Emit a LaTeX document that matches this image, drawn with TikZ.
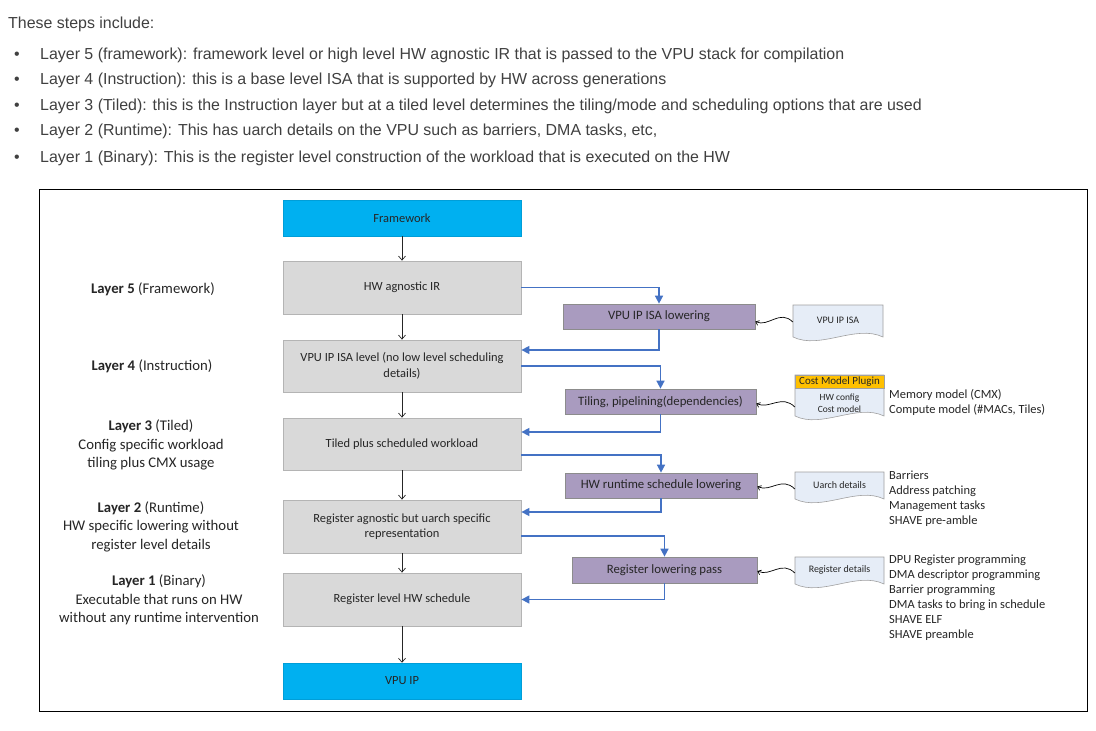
\documentclass[tikz,border=0pt]{standalone}
\usepackage{fontspec}
\setmainfont{Carlito}
\newfontfamily\webfont{Liberation Sans}
\usetikzlibrary{arrows.meta,calc}
\definecolor{cyanbox}{HTML}{00B0F0}
\definecolor{graybox}{HTML}{D9D9D9}
\definecolor{grayline}{HTML}{B4B4B4}
\definecolor{purplebox}{HTML}{A99BBF}
\definecolor{purpleline}{HTML}{8C8C8C}
\definecolor{docfill}{HTML}{E6EDF7}
\definecolor{docline}{HTML}{A0A0A0}
\definecolor{flowblue}{HTML}{4472C4}
\definecolor{plugin}{HTML}{FFC000}
\definecolor{webtext}{HTML}{404040}
\definecolor{diagtext}{HTML}{262626}
\newcommand\docshape[4]{%
  \filldraw[docsty] (#1,#2) -- (#3,#2) -- (#3,#4)
    .. controls ({#1+0.7*(#3-#1)},{#4-13}) and ({#1+0.3*(#3-#1)},{#4+13}) .. (#1,#4) -- cycle;}
\tikzset{
  docsty/.style={fill=docfill,draw=docline,line width=0.6bp},
  graystep/.style={fill=graybox,draw=grayline,line width=0.8bp,minimum width=238bp,
    text=diagtext,font=\fontsize{12.5}{15.5}\selectfont,align=center,inner sep=0pt},
  endbox/.style={fill=cyanbox,draw=cyanbox!90!black,line width=0.5bp,minimum width=238bp,
    minimum height=36bp,text=diagtext,font=\fontsize{12.5}{15}\selectfont,inner sep=0pt},
  passbox/.style={fill=purplebox,draw=purpleline,line width=0.7bp,minimum height=25bp,
    text=diagtext,font=\fontsize{12.8}{15}\selectfont,inner sep=0pt},
  docnode/.style={draw=none,minimum width=89bp,inner sep=0pt,text=diagtext,
    font=\fontsize{10}{12}\selectfont,align=center},
  flowarrow/.style={draw=flowblue,line width=1.5bp,-{Triangle[length=8bp,width=8bp]}},
  downarrow/.style={draw=black!85,line width=0.7bp,-{Straight Barb[length=4bp,width=7bp]}},
  squig/.style={draw=black,line width=0.7bp,-{Straight Barb[length=3bp,width=5bp]}},
  layerlabel/.style={text=diagtext,font=\fontsize{14.8}{18.5}\selectfont,align=center,inner sep=0pt},
  sidelist/.style={anchor=west,text=diagtext,font=\fontsize{12.5}{15}\selectfont,align=left,inner sep=0pt},
  webline/.style={anchor=west,text=webtext,font=\webfont\fontsize{16}{18}\selectfont,inner sep=0pt},
  bulletdot/.style={text=webtext,font=\webfont\fontsize{16}{18}\selectfont,inner sep=0pt}
}
\begin{document}
\begin{tikzpicture}[x=1bp,y=-1bp]
\useasboundingbox[fill=white] (0,0) rectangle (1096,731);

% top text
\node[webline] (t0) at (8,24.5) {These steps include:};
\foreach \yy/\nm/\txt in {
  55.5/t1/{Layer 5 (framework): framework level or high level HW agnostic IR that is passed to the VPU stack for compilation},
  80.5/t2/{Layer 4 (Instruction): this is a base level ISA that is supported by HW across generations},
  106.5/t3/{Layer 3 (Tiled): this is the Instruction layer but at a tiled level determines the tiling/mode and scheduling options that are used},
  131.5/t4/{Layer 2 (Runtime): This has uarch details on the VPU such as barriers, DMA tasks, etc,},
  158.5/t5/{Layer 1 (Binary): This is the register level construction of the workload that is executed on the HW}}{
  \node[bulletdot] (b\nm) at (17,\yy) {•};
  \node[webline] (\nm) at (40,\yy) {\txt};
}

% frame
\draw[black,line width=0.9bp] (39,189) rectangle (1087,711);

% main column
\node[endbox] (fw) at (402,218) {Framework};
\node[graystep,minimum height=53bp] (g5) at (402,287.5) {HW agnostic IR};
\node[graystep,minimum height=52bp] (g4) at (402,366) {VPU IP ISA level (no low level scheduling\\details)};
\node[graystep,minimum height=52bp] (g3) at (402,444) {Tiled plus scheduled workload};
\node[graystep,minimum height=53bp] (g2) at (402,526.5) {Register agnostic but uarch specific\\representation};
\node[graystep,minimum height=53bp] (g1) at (402,599.5) {Register level HW schedule};
\node[endbox] (vpu) at (402,681) {VPU IP};

\draw[downarrow] (fw.south) -- (g5.north);
\draw[downarrow] (g5.south) -- (g4.north);
\draw[downarrow] (g4.south) -- (g3.north);
\draw[downarrow] (g3.south) -- (g2.north);
\draw[downarrow] (g1.south) -- (vpu.north);
\draw[downarrow] (g2.south) -- (g1.north);

% passes
\node[passbox,minimum width=192bp] (p1) at (659,316.5) {VPU IP ISA lowering};
\node[passbox,minimum width=191bp] (p2) at (660.5,401.5) {Tiling, pipelining(dependencies)};
\node[passbox,minimum width=192bp] (p3) at (661,485.5) {HW runtime schedule lowering};
\node[passbox,minimum width=185bp,minimum height=26bp] (p4) at (664.5,570) {Register lowering pass};

\draw[flowarrow] (g5.east) -| (p1.north);
\draw[flowarrow] (p1.south) |- ([yshift=16bp]g4.east);
\draw[flowarrow] (g4.east) -| (p2.north);
\draw[flowarrow] (p2.south) |- ([yshift=12bp]g3.east);
\draw[flowarrow] ([yshift=-11bp]g3.east) -| (p3.north);
\draw[flowarrow] (p3.south) |- ([yshift=14.5bp]g2.east);
\draw[flowarrow] ([yshift=-9.5bp]g2.east) -| (p4.north);
\draw[flowarrow] (p4.south) |- (g1.east);

% documents
\docshape{793}{305}{883}{337}
\node[docnode,minimum width=90bp,minimum height=30bp] (d1) at (838,320) {VPU IP ISA};
\docshape{795}{375}{884}{416}
\fill[plugin] (795.3,375.3) rectangle (883.7,388);
\draw[docline,line width=0.6bp] (795,375) rectangle (884,388);
\node[docnode,font=\fontsize{11}{12}\selectfont] (plg) at (839.5,381.5) {Cost Model Plugin};
\node[docnode,minimum height=24bp,font=\fontsize{9.5}{12.5}\selectfont] (d2) at (839.5,403) {HW config\\Cost model};
\docshape{795}{472}{884}{499}
\node[docnode,minimum height=26bp] (d3) at (839.5,485) {Uarch details};
\docshape{795}{557}{884}{584}
\node[docnode,minimum height=26bp] (d4) at (839.5,570) {Register details};

\draw[squig] ([yshift=-2bp]d1.west) .. controls +(-13,-13) and +(13,6) .. ([yshift=-5bp]p1.east);
\draw[squig] ([yshift=-4bp]d2.west) .. controls +(-13,-13) and +(13,6) .. ([yshift=-2bp]p2.east);
\draw[squig] ([yshift=-4bp]d3.west) .. controls +(-13,-13) and +(13,6) .. ([yshift=-1bp]p3.east);
\draw[squig] ([yshift=-3bp]d4.west) .. controls +(-13,-13) and +(13,6) .. ([yshift=-1bp]p4.east);

% side lists
\node[sidelist] (s2) at (889,402) {Memory model (CMX)\\Compute model (\#MACs, Tiles)};
\node[sidelist] (s3) at (889,498.5) {Barriers\\Address patching\\Management tasks\\SHAVE pre-amble};
\node[sidelist] (s4) at (889,597.5) {DPU Register programming\\DMA descriptor programming\\Barrier programming\\DMA tasks to bring in schedule\\SHAVE ELF\\SHAVE preamble};

% layer labels
\node[layerlabel] (l5) at (153,289) {\textbf{Layer 5} (Framework)};
\node[layerlabel] (l4) at (152,366) {\textbf{Layer 4} (Instruction)};
\node[layerlabel] (l3) at (151,445) {\textbf{Layer 3} (Tiled)\\Config specific workload\\tiling plus CMX usage};
\node[layerlabel] (l2) at (151,526.5) {\textbf{Layer 2} (Runtime)\\HW specific lowering without\\register level details};
\node[layerlabel] (l1) at (159,600) {\textbf{Layer 1} (Binary)\\Executable that runs on HW\\without any runtime intervention};
\end{tikzpicture}
\end{document}
